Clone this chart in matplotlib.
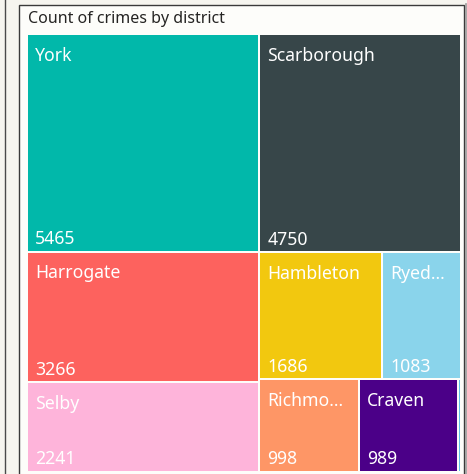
import matplotlib
matplotlib.use("Agg")
import matplotlib.pyplot as plt
from matplotlib.patches import Rectangle

# ---------------- data ----------------
title = "Count of crimes by district"
districts = ["York", "Scarborough", "Harrogate", "Hambleton", "Ryedale",
             "Selby", "Richmondshire", "Craven", "(Blank)"]
counts = [5465, 4750, 3266, 1686, 1083, 2241, 998, 989, 25]
colors = ["#01B8AA", "#374649", "#FD625E", "#F2C80F", "#8AD4EB",
          "#FEB4DA", "#FE9666", "#4B0088", "#5CC6E6"]

# grouping of the treemap (alternating split direction, sized by counts)
tree = [["York", "Harrogate", "Selby"],
        [["Scarborough"], ["Hambleton", "Ryedale"],
         ["Richmondshire", "Craven", "(Blank)"]]]

value_of = dict(zip(districts, counts))
color_of = dict(zip(districts, colors))

FONT = "Noto Sans"
W, H = 467, 474

fig = plt.figure(figsize=(W / 100, H / 100), dpi=100)
fig.patch.set_facecolor("#F6F5EF")
ax = fig.add_axes([0, 0, 1, 1])
ax.set_xlim(0, W)
ax.set_ylim(H, 0)
ax.axis("off")

# frame of the report visual
ax.add_patch(Rectangle((19, 4.5), 444.5, 480, facecolor="#FDFDFA",
                       edgecolor="#3A3A3A", lw=1.0))
ax.plot([465.5, 465.5], [4, H], color="#9A9A9A", lw=1.2)
ax.plot([4.5, 4.5], [0, H], color="#4A4A4A", lw=1.0)

ax.text(28, 18.5, title, fontsize=11.5, family=FONT, color="#252423",
        va="center", ha="left")


def total(node):
    if isinstance(node, str):
        return value_of[node]
    return sum(total(c) for c in node)


rects = {}


def layout(node, x0, y0, x1, y1, horizontal):
    if isinstance(node, str):
        rects[node] = (x0, y0, x1, y1)
        return
    t = total(node)
    pos = x0 if horizontal else y0
    for child in node:
        frac = total(child) / t
        if horizontal:
            nxt = pos + (x1 - x0) * frac
            layout(child, pos, y0, nxt, y1, False)
        else:
            nxt = pos + (y1 - y0) * frac
            layout(child, x0, pos, x1, nxt, True)
        pos = nxt


layout(tree, 27, 34, 461, 471.5, True)

fig.canvas.draw()
renderer = fig.canvas.get_renderer()

LABEL_FS = 12.7
PAD = 7
gap = 1.0
for name in districts:
    x0, y0, x1, y1 = rects[name]
    vx0, vy0, vx1, vy1 = x0 + gap, y0 + gap, x1 - gap, y1 - gap
    ax.add_patch(Rectangle((vx0, vy0), vx1 - vx0, vy1 - vy0,
                           facecolor=color_of[name], edgecolor="none"))
    avail = (vx1 - vx0) - 2 * PAD
    if avail < 20:
        continue
    # category label (truncate with ellipsis if needed)
    txt = ax.text(vx0 + PAD, vy0 + 25.5, name, fontsize=LABEL_FS, family=FONT,
                  color="white", va="baseline", ha="left")
    label = name
    while txt.get_window_extent(renderer).width > avail and len(label) > 1:
        label = label[:-1]
        txt.set_text(label + "...")
    # value label
    ax.text(vx0 + PAD, vy1 - 6.5, f"{value_of[name]}", fontsize=LABEL_FS,
            family=FONT, color="white", va="baseline", ha="left")

fig.savefig("out.png", dpi=100, facecolor=fig.get_facecolor())
